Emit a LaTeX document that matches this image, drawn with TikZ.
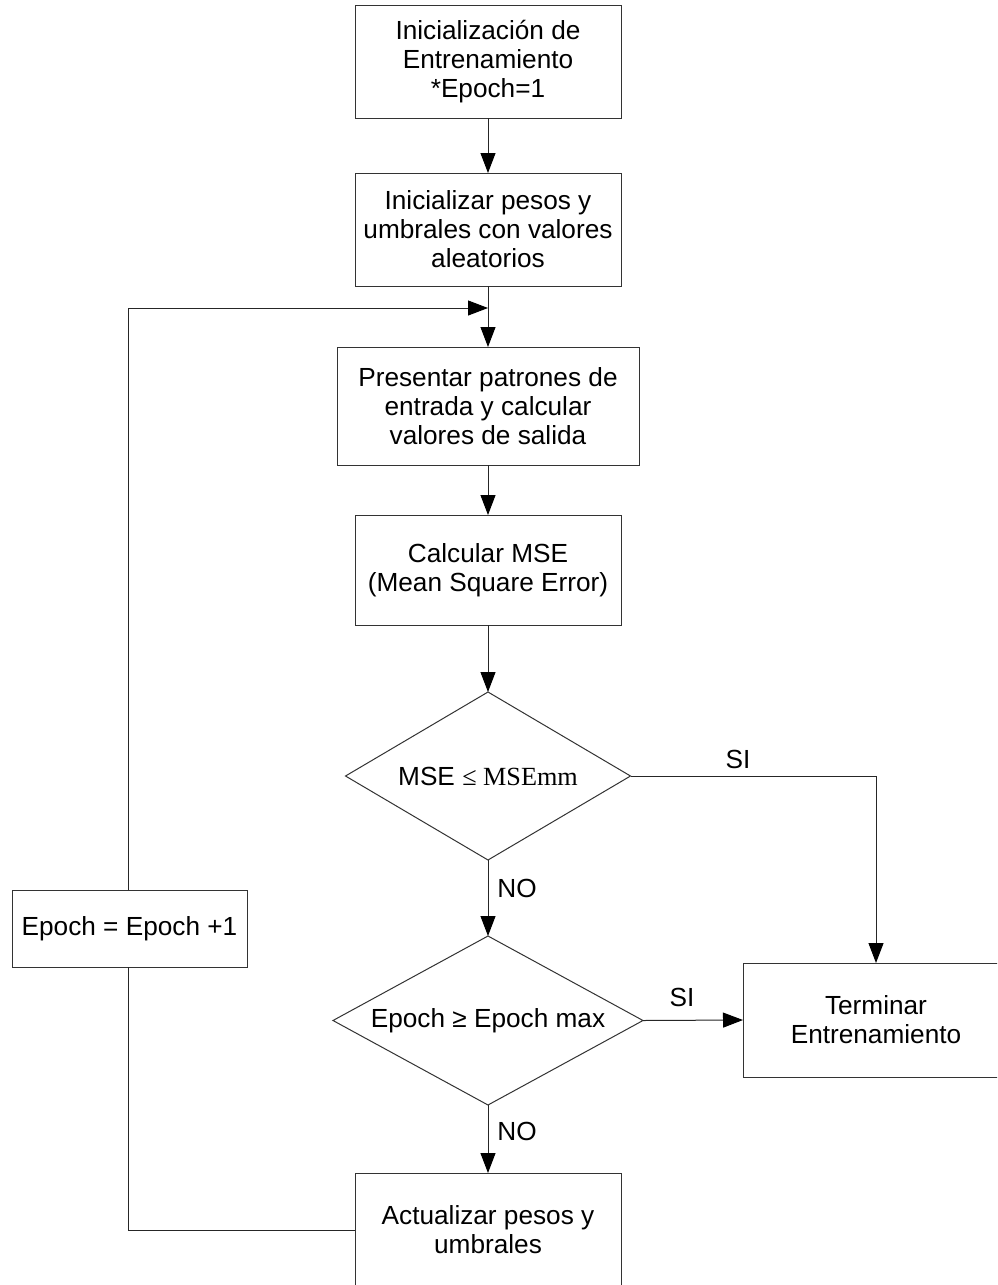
\documentclass[tikz,border=0pt]{standalone}
\usepackage{fontspec}
\setmainfont{Liberation Sans}
\newfontfamily\timesfont{Liberation Serif}
\usetikzlibrary{shapes.geometric,arrows.meta}
\begin{document}
\begin{tikzpicture}[x=1pt,y=-1pt,
  every node/.style={font=\fontsize{26.2}{29}\selectfont},
  box/.style={draw=black!80,line width=1pt,rectangle,align=center,inner sep=0pt,outer sep=0pt},
  dia/.style={draw=black!80,line width=1pt,diamond,inner sep=0pt,outer sep=0pt},
  conn/.style={draw=black!85,line width=1pt},
  arr/.style={conn,-{Triangle[length=20pt,width=15pt,color=black]}},
  lbl/.style={inner sep=0pt}]
\useasboundingbox (0,0) rectangle (997,1285);
\clip (0,0) rectangle (997,1285);
\fill[white] (0,0) rectangle (997,1285);
\node[box,minimum width=266pt,minimum height=113pt] (b1) at (488,61.5) {Inicialización de\\Entrenamiento\\*Epoch=1};
\node[box,minimum width=266pt,minimum height=113pt] (b2) at (488,229.5) {Inicializar pesos y\\umbrales con valores\\aleatorios};
\node[box,minimum width=302pt,minimum height=118pt] (b3) at (488,406) {Presentar patrones de\\entrada y calcular\\valores de salida};
\node[box,minimum width=266pt,minimum height=110pt] (b4) at (488,570) {Calcular MSE\\(Mean Square Error)};
\node[dia,minimum width=285pt,minimum height=168pt,shape aspect=1.7] (d1) at (488,776) {MSE {\timesfont ≤ MSEmm}};
\node[dia,minimum width=310pt,minimum height=169pt,shape aspect=1.83] (d2) at (488,1020.5) {Epoch ≥ Epoch max};
\node[box,minimum width=266pt,minimum height=114pt] (t) at (876,1020) {Terminar\\Entrenamiento};
\node[box,minimum width=266pt,minimum height=114pt] (b5) at (488,1230) {Actualizar pesos y\\umbrales};
\node[box,minimum width=235pt,minimum height=77pt] (ep) at (129.5,928.5) {Epoch = Epoch +1};
\coordinate (j) at (488,308);
\coordinate (tl) at (128,308);
\coordinate (bl) at (128,1230);
\coordinate (sr) at (876,776);
\draw[arr] (b1.south) -- (b2.north);
\draw[arr] (b2.south) -- (b3.north);
\draw[arr] (b3.south) -- (b4.north);
\draw[arr] (b4.south) -- (d1.north);
\draw[arr] (d1.south) -- (d2.north);
\draw[arr] (d2.south) -- (b5.north);
\draw[arr] (d1.east) -- (sr) -- (t.north);
\draw[arr] (d2.east) -- (t.west);
\draw[conn] (b5.west) -- (bl) -- (ep.south -| bl);
\draw[arr] (ep.north -| tl) -- (tl) -- (j);
\node[lbl] (si1) at (738,759) {SI};
\node[lbl] (si2) at (682,997) {SI};
\node[lbl] (no1) at (517,888) {NO};
\node[lbl] (no2) at (517,1131) {NO};
\end{tikzpicture}
\end{document}
